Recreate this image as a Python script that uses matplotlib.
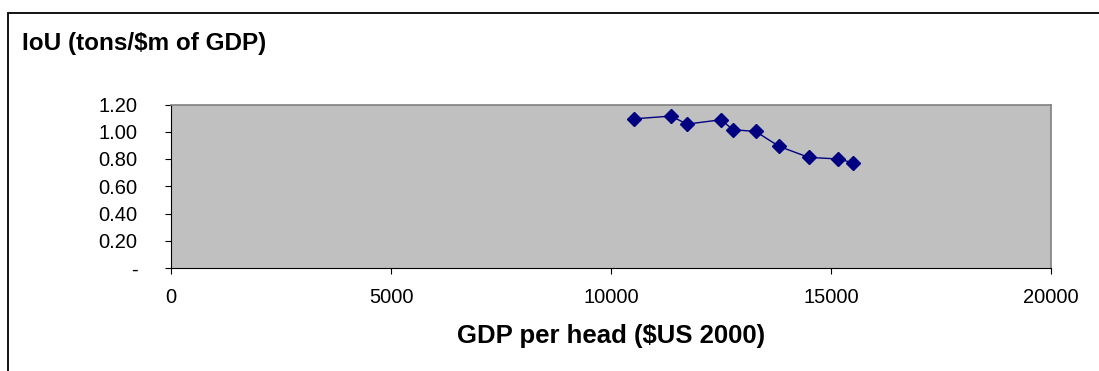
import numpy as np
import matplotlib.pyplot as plt
from matplotlib.patches import Rectangle

# datos
gdp_head = [10530, 11364, 11727, 12500, 12773, 13288, 13818, 14493, 15166, 15493]
iou = [1.095, 1.115, 1.056, 1.088, 1.015, 1.002, 0.893, 0.812, 0.800, 0.773]

x_ticks = [0, 5000, 10000, 15000, 20000]
y_ticks = [0, 0.2, 0.4, 0.6, 0.8, 1.0, 1.2]
y_labels = ['-', '0.20', '0.40', '0.60', '0.80', '1.00', '1.20']

plt.rcParams['font.family'] = ['Liberation Sans', 'DejaVu Sans']

fig = plt.figure(figsize=(10.99, 3.71), dpi=100)

# marco exterior (cortado a la derecha y abajo)
W, H = 1099, 371
fig.patches.append(Rectangle((8 / W, -0.1), 1.2, (H - 13) / H + 0.1,
                             transform=fig.transFigure, fill=False,
                             edgecolor='black', linewidth=1.3))

ax = fig.add_axes([171 / W, (H - 268) / H, (1051 - 171) / W, (268 - 104.5) / H])
ax.set_facecolor('#c0c0c0')
ax.plot(gdp_head, iou, color='#000080', linewidth=1, marker='D',
        markersize=6.8, markerfacecolor='#000080', markeredgecolor='#000080')

ax.set_xlim(0, 20000)
ax.set_ylim(0, 1.2)
ax.set_xticks(x_ticks)
ax.set_xticklabels([str(v) for v in x_ticks])
ax.set_yticks(y_ticks)
ax.set_yticklabels(y_labels)
ax.tick_params(axis='y', direction='out', length=4.5, width=0.8, pad=19.5, labelsize=14.5)
ax.tick_params(axis='x', direction='out', length=4.5, width=0.8, pad=10, labelsize=14.5)

for s in ['top', 'right']:
    ax.spines[s].set_color('#808080')
    ax.spines[s].set_linewidth(1.2)
for s in ['left', 'bottom']:
    ax.spines[s].set_color('black')
    ax.spines[s].set_linewidth(0.8)

ax.set_xlabel('GDP per head ($US 2000)', fontsize=18.5, fontweight='bold', labelpad=12)

fig.text(22 / W, 1 - 50 / H, 'IoU (tons/$m of GDP)', fontsize=17.5, fontweight='bold',
         ha='left', va='baseline')

fig.savefig('out.png', dpi=100)
